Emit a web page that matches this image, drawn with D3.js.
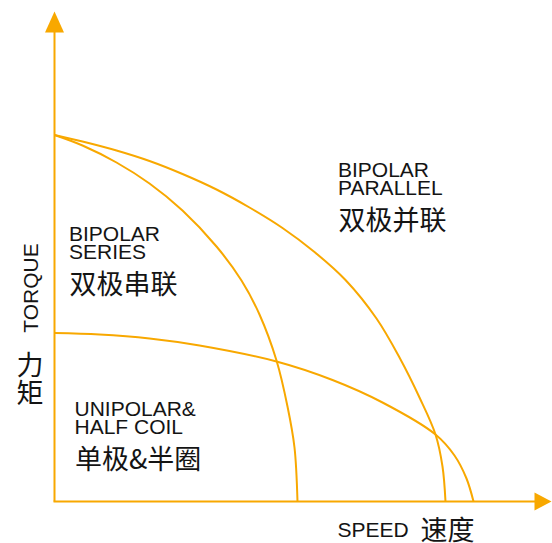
<!DOCTYPE html>
<html>
<head>
<meta charset="utf-8">
<script src="https://cdn.jsdelivr.net/npm/d3@7/dist/d3.min.js"></script>
<style>
  body { margin: 0; background: #fff; }
  svg text { font-family: "Liberation Sans", Arial, sans-serif; fill: #141414; }
  svg text.cn { font-family: "Noto Sans CJK SC", sans-serif; }
</style>
</head>
<body>
<script>
//------------------------------- init -------------------------------
const width = 552,
    height = 543;
const orange = "#F8A800";

// curve readings: speed (x) and torque (y), counted from the axes corner
const seriesSpeed    = [0, 28, 62, 95, 128, 162, 187, 205, 222, 233, 240, 243];
const seriesTorque   = [366.5, 356, 339, 318, 291, 255, 221, 187, 141, 95, 54, 0];

const parallelSpeed  = [0, 28, 62, 95, 128, 162, 195, 228, 260, 291, 322, 345, 365, 381, 388, 391];
const parallelTorque = [366.5, 360, 351, 340.5, 327.5, 312, 294, 273.5, 249.5, 221.5, 183, 144, 104, 67, 35, 0];

const unipolarSpeed  = [0, 45, 95, 145, 222, 278, 328, 381, 400, 412, 419];
const unipolarTorque = [168.5, 167, 163, 156, 140, 121.5, 99, 67, 46, 23, 0];

// texts
const seriesLabel   = ["BIPOLAR", "SERIES", "双极串联"];
const parallelLabel = ["BIPOLAR", "PARALLEL", "双极并联"];
const unipolarLabel = ["UNIPOLAR&", "HALF COIL", "单极&半圈"];
const xTitle = ["SPEED", "速度"];
const yTitle = ["TORQUE", "力", "矩"];

const speedMax = 497,
    torqueMax = 490;

//------------------------------ scales ------------------------------
const xScale = d3.scaleLinear().domain([0, speedMax]).range([54.5, 551.5]);
const yScale = d3.scaleLinear().domain([0, torqueMax]).range([501.5, 11.5]);

const svg = d3.select("body").append("svg")
    .attr("width", width)
    .attr("height", height);

//------------------------------ axes --------------------------------
const x0 = xScale(0), y0 = yScale(0);
const xEnd = xScale(speedMax), yEnd = yScale(torqueMax);

svg.append("line")
    .attr("x1", x0).attr("y1", y0)
    .attr("x2", x0).attr("y2", yEnd + 15)
    .attr("stroke", orange).attr("stroke-width", 2);

svg.append("line")
    .attr("x1", x0 - 1).attr("y1", y0)
    .attr("x2", xEnd - 12).attr("y2", y0)
    .attr("stroke", orange).attr("stroke-width", 2);

// arrow heads
svg.append("path")
    .attr("d", `M ${x0} ${yEnd} L ${x0 - 9.5} ${yEnd + 21} L ${x0 + 9.5} ${yEnd + 21} Z`)
    .attr("fill", orange);

svg.append("path")
    .attr("d", `M ${xEnd} ${y0} L ${xEnd - 17} ${y0 - 9} L ${xEnd - 17} ${y0 + 9} Z`)
    .attr("fill", orange);

//------------------------------ curves ------------------------------
const line = d3.line()
    .x(d => xScale(d[0]))
    .y(d => yScale(d[1]))
    .curve(d3.curveCatmullRom.alpha(0.5));

[[seriesSpeed, seriesTorque], [parallelSpeed, parallelTorque], [unipolarSpeed, unipolarTorque]]
  .forEach(function([sx, ty]) {
    svg.append("path")
      .datum(d3.zip(sx, ty))
      .attr("d", line)
      .attr("fill", "none")
      .attr("stroke", orange)
      .attr("stroke-width", 2);
  });

//------------------------------ labels ------------------------------
function block(lines, x, y) {
  const g = svg.append("g");
  g.append("text").attr("x", x).attr("y", y).attr("font-size", 21).text(lines[0]);
  g.append("text").attr("x", x).attr("y", y + 18.5).attr("font-size", 21).text(lines[1]);
  g.append("text").attr("class", "cn").attr("x", x + 0.5).attr("y", y + 53.5).attr("font-size", 27).text(lines[2]);
}

block(seriesLabel, 69, 240.5);
block(parallelLabel, 338, 176.5);
block(unipolarLabel, 74.5, 415.5);

// axis titles
svg.append("text").attr("x", 337.5).attr("y", 537).attr("font-size", 21).text(xTitle[0]);
svg.append("text").attr("class", "cn").attr("x", 420.5).attr("y", 539.5).attr("font-size", 27).text(xTitle[1]);

svg.append("text")
    .attr("transform", "translate(38,288) rotate(-90)")
    .attr("text-anchor", "middle")
    .attr("font-size", 21)
    .text(yTitle[0]);

svg.append("text").attr("class", "cn").attr("x", 30).attr("y", 375)
    .attr("text-anchor", "middle").attr("font-size", 27).text(yTitle[1]);
svg.append("text").attr("class", "cn").attr("x", 30).attr("y", 402.5)
    .attr("text-anchor", "middle").attr("font-size", 27).text(yTitle[2]);
</script>
</body>
</html>
